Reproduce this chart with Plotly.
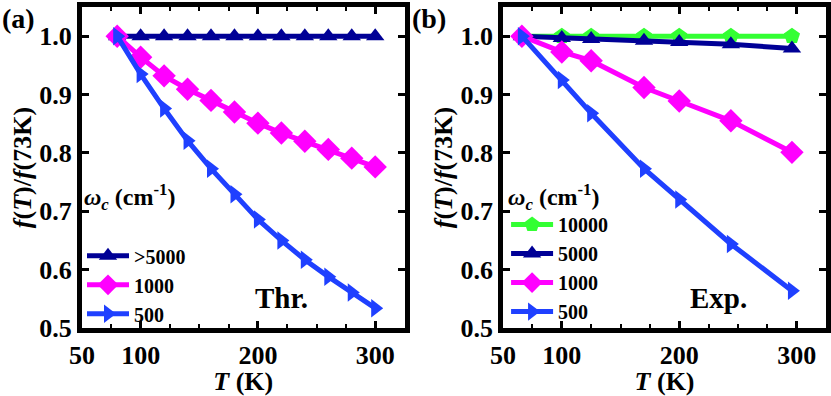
import plotly.graph_objects as go

# panel (a): theory
T_a = [80, 100, 120, 140, 160, 180, 200, 220, 240, 260, 280, 300]
a_5000 = [1.0] * 12
a_1000 = [1.0, 0.964, 0.932, 0.909, 0.890, 0.870, 0.851, 0.834, 0.820, 0.806, 0.791, 0.776]
a_500 = [1.0, 0.935, 0.876, 0.821, 0.773, 0.729, 0.686, 0.650, 0.617, 0.588, 0.561, 0.534]

# panel (b): experiment
T_b = [66, 100, 125, 170, 200, 244, 296]
b_10000 = [1.0, 1.0, 1.0, 1.0, 1.0, 1.0, 1.0]
b_5000 = [1.0, 0.997, 0.995, 0.992, 0.990, 0.986, 0.979]
b_1000 = [1.0, 0.973, 0.958, 0.912, 0.889, 0.855, 0.801]
b_500 = [1.0, 0.925, 0.868, 0.773, 0.720, 0.644, 0.564]

NAVY = "#000096"
MAG = "#ff00ff"
BLUE = "#1f40ff"
GREEN = "#33ff33"
FONT = "Liberation Serif"

fig = go.Figure()

def add(x, y, name, color, symbol, size, xa, ya, leg):
    fig.add_trace(go.Scatter(
        x=x, y=y, name=name, mode="lines+markers",
        line=dict(color=color, width=5),
        marker=dict(color=color, symbol=symbol, size=size),
        xaxis=xa, yaxis=ya, legend=leg,
    ))

add(T_a, a_5000, ">5000", NAVY, "triangle-up", 16, "x", "y", "legend")
add(T_a, a_1000, "1000", MAG, "diamond", 18, "x", "y", "legend")
add(T_a, a_500, "500", BLUE, "triangle-right", 16, "x", "y", "legend")

add(T_b, b_10000, "10000", GREEN, "pentagon", 17, "x2", "y2", "legend2")
add(T_b, b_5000, "5000", NAVY, "triangle-up", 16, "x2", "y2", "legend2")
add(T_b, b_1000, "1000", MAG, "diamond", 18, "x2", "y2", "legend2")
add(T_b, b_500, "500", BLUE, "triangle-right", 16, "x2", "y2", "legend2")

axfont = dict(family=FONT, size=26, color="black", weight="bold")
common_x = dict(range=[50, 325], tickvals=[50, 100, 200, 300], automargin=False,
                minor=dict(tickvals=[75, 125, 150, 175, 225, 250, 275], ticklen=4,
                           tickwidth=2, tickcolor="black", ticks="inside"),
                ticks="inside", ticklen=7, tickwidth=2.5, tickcolor="black",
                showline=True, linewidth=5, linecolor="black", mirror="allticks",
                showgrid=False, zeroline=False, tickfont=axfont,
                title=dict(text="<b><i>T</i> (K)</b>", font=dict(family=FONT, size=26),
                           standoff=0))
common_y = dict(range=[0.5, 1.05], tickvals=[0.5, 0.6, 0.7, 0.8, 0.9, 1.0],
                ticktext=["0.5", "0.6", "0.7", "0.8", "0.9", "1.0"], automargin=False,
                ticks="inside", ticklen=7, tickwidth=2.5, tickcolor="black",
                showline=True, linewidth=5, linecolor="black", mirror="allticks",
                showgrid=False, zeroline=False, tickfont=axfont,
                title=dict(text="<b><i>f</i>(<i>T</i>)/<i>f</i>(73K)</b>",
                           font=dict(family=FONT, size=26), standoff=2))

leg_common = dict(font=dict(family=FONT, size=20, color="black", weight="bold"),
                  bgcolor="rgba(0,0,0,0)", tracegroupgap=0, itemwidth=42,
                  xanchor="left", yanchor="top")
leg_title = "<b><i>ω</i><sub><i>c</i></sub> (cm<sup>-1</sup>)</b>"

fig.update_layout(
    width=831, height=396,
    margin=dict(l=82, r=5, t=7, b=68, autoexpand=False),
    plot_bgcolor="white", paper_bgcolor="white",
    font=dict(family=FONT, size=22, color="black"),
    xaxis=dict(domain=[0, 0.4335], anchor="y", **common_x),
    yaxis=dict(domain=[0, 1], anchor="x", **common_y),
    xaxis2=dict(domain=[0.566, 1], anchor="y2", **common_x),
    yaxis2=dict(domain=[0, 1], anchor="x2", **common_y),
    legend=dict(x=0.0, y=0.48, title=dict(text=leg_title + "<br> ", font=dict(family=FONT, size=24)),
                **leg_common),
    legend2=dict(x=0.57, y=0.48, title=dict(text=leg_title, font=dict(family=FONT, size=24)),
                 **leg_common),
    annotations=[
        dict(text="<b>(a)</b>", x=-0.11, y=1.02, xref="paper", yref="paper",
             xanchor="left", yanchor="top", showarrow=False,
             font=dict(family=FONT, size=28)),
        dict(text="<b>(b)</b>", x=0.441, y=1.02, xref="paper", yref="paper",
             xanchor="left", yanchor="top", showarrow=False,
             font=dict(family=FONT, size=28)),
        dict(text="<b>Thr.</b>", x=0.2675, y=0.093, xref="paper", yref="paper",
             xanchor="center", yanchor="middle",
             showarrow=False, font=dict(family=FONT, size=29)),
        dict(text="<b>Exp.</b>", x=0.856, y=0.093, xref="paper", yref="paper",
             xanchor="center", yanchor="middle",
             showarrow=False, font=dict(family=FONT, size=29)),
    ],
)

fig.write_html("out.html", config={"displayModeBar": False},
               post_script="document.body.style.margin='0';")
